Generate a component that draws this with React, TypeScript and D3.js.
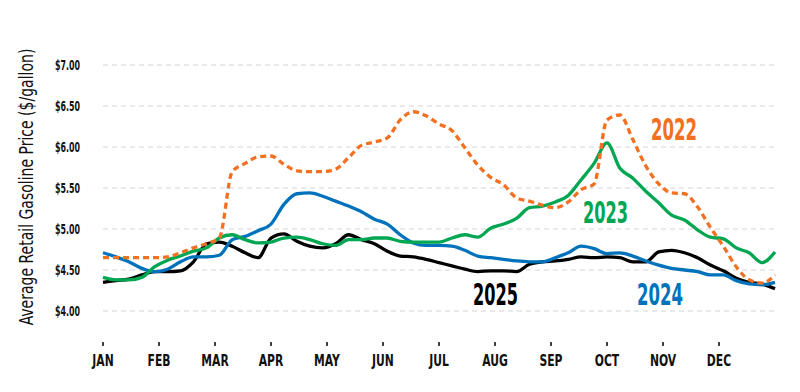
import * as d3 from 'd3'
import React from 'react'

// weekly average retail price, $/gallon (53 weeks, Jan -> end of Dec)
const prices2022 = [4.65, 4.65, 4.65, 4.65, 4.65, 4.66, 4.71, 4.77, 4.82, 4.89, 5.70, 5.80, 5.88, 5.89, 5.79, 5.71, 5.70, 5.70, 5.73, 5.87, 6.02, 6.06, 6.11, 6.33, 6.43, 6.38, 6.28, 6.20, 5.99, 5.78, 5.63, 5.54, 5.38, 5.34, 5.29, 5.26, 5.33, 5.48, 5.55, 6.33, 6.39, 6.09, 5.77, 5.55, 5.44, 5.43, 5.27, 5.02, 4.79, 4.54, 4.38, 4.34, 4.44]
const prices2023 = [4.41, 4.38, 4.38, 4.41, 4.54, 4.62, 4.67, 4.73, 4.77, 4.89, 4.93, 4.87, 4.83, 4.84, 4.89, 4.90, 4.87, 4.82, 4.80, 4.87, 4.87, 4.89, 4.89, 4.85, 4.84, 4.84, 4.84, 4.89, 4.93, 4.90, 5.01, 5.06, 5.13, 5.26, 5.28, 5.33, 5.41, 5.60, 5.80, 6.05, 5.74, 5.62, 5.46, 5.32, 5.17, 5.11, 4.99, 4.90, 4.88, 4.77, 4.71, 4.59, 4.72]
const prices2024 = [4.71, 4.66, 4.60, 4.52, 4.48, 4.51, 4.60, 4.66, 4.66, 4.68, 4.87, 4.91, 4.98, 5.06, 5.30, 5.43, 5.44, 5.40, 5.34, 5.28, 5.21, 5.12, 5.06, 4.93, 4.83, 4.80, 4.80, 4.79, 4.74, 4.67, 4.65, 4.63, 4.61, 4.60, 4.60, 4.65, 4.71, 4.79, 4.76, 4.70, 4.71, 4.67, 4.61, 4.56, 4.52, 4.50, 4.48, 4.44, 4.44, 4.37, 4.33, 4.32, 4.35]
const prices2025 = [4.35, 4.37, 4.39, 4.44, 4.48, 4.48, 4.49, 4.60, 4.82, 4.84, 4.79, 4.71, 4.65, 4.89, 4.94, 4.85, 4.79, 4.77, 4.82, 4.93, 4.87, 4.82, 4.73, 4.67, 4.66, 4.63, 4.59, 4.55, 4.51, 4.48, 4.49, 4.49, 4.48, 4.57, 4.60, 4.61, 4.63, 4.66, 4.65, 4.66, 4.65, 4.60, 4.60, 4.72, 4.74, 4.71, 4.65, 4.56, 4.49, 4.40, 4.35, 4.33, 4.27]

const months = ['JAN', 'FEB', 'MAR', 'APR', 'MAY', 'JUN', 'JUL', 'AUG', 'SEP', 'OCT', 'NOV', 'DEC']
const yTicks = [4, 4.5, 5, 5.5, 6, 6.5, 7]

const W = 800
const H = 392
const FONT = "'Liberation Sans Narrow', 'DejaVu Sans Condensed', 'Arial Narrow', sans-serif"

export default function App() {
  const x = d3.scaleLinear().domain([0, 12]).range([103, 775])
  const y = d3.scaleLinear().domain([4, 7]).range([311, 65])
  const weekToMonth = (i: number) => (i * 12) / 52

  const line = d3
    .line<number>()
    .x((d, i) => x(weekToMonth(i)))
    .y((d) => y(d))
    .curve(d3.curveMonotoneX)

  const series = [
    { name: '2025', data: prices2025, color: '#000000', dash: null },
    { name: '2024', data: prices2024, color: '#0072bc', dash: null },
    { name: '2023', data: prices2023, color: '#00a651', dash: null },
    { name: '2022', data: prices2022, color: '#f37021', dash: '6 4' },
  ]

  // label spots: x left, baseline y, width
  const labels = [
    { text: '2022', color: '#f37021', x: 651, y: 140, w: 46 },
    { text: '2023', color: '#00a651', x: 583, y: 223, w: 45 },
    { text: '2025', color: '#000000', x: 473, y: 305, w: 45 },
    { text: '2024', color: '#0072bc', x: 637, y: 305, w: 46 },
  ]

  return (
    <svg
      width={W}
      height={H}
      style={{ position: 'absolute', left: 0, top: 0, background: '#fff' }}
    >
      {yTicks.map((t) => (
        <g key={t}>
          <line
            x1={x(0)}
            x2={x(12)}
            y1={y(t)}
            y2={y(t)}
            stroke="#d4d4d4"
            strokeWidth={1}
            strokeDasharray="5 4"
          />
          <text
            x={80}
            y={y(t) + 5}
            textAnchor="end"
            fontFamily={FONT}
            fontWeight="bold"
            fontSize={14}
            textLength={25}
            lengthAdjust="spacingAndGlyphs"
            fill="#111"
          >
            {'$' + t.toFixed(2)}
          </text>
        </g>
      ))}

      {months.map((m, i) => (
        <g key={m}>
          <line x1={x(i)} x2={x(i)} y1={342} y2={346} stroke="#000" strokeWidth={1.5} />
          <g transform={`translate(${x(i)},366) scale(0.8,1)`}>
            <text
              textAnchor="middle"
              fontFamily={FONT}
              fontWeight="bold"
              fontSize={15}
              fill="#111"
            >
              {m}
            </text>
          </g>
        </g>
      ))}

      <g transform="translate(33,187) rotate(-90) scale(0.82,1)">
        <text textAnchor="middle" fontFamily={FONT} fontSize={19} fill="#111">
          Average Retail Gasoline Price ($/gallon)
        </text>
      </g>

      {series.map((s) => (
        <path
          key={s.name}
          d={line(s.data) || ''}
          fill="none"
          stroke={s.color}
          strokeWidth={3.3}
          strokeDasharray={s.dash || undefined}
          strokeLinejoin="round"
        />
      ))}

      {labels.map((l) => (
        <text
          key={l.text}
          x={l.x}
          y={l.y}
          fontFamily={FONT}
          fontWeight="bold"
          fontSize={31}
          textLength={l.w}
          lengthAdjust="spacingAndGlyphs"
          fill={l.color}
        >
          {l.text}
        </text>
      ))}
    </svg>
  )
}
